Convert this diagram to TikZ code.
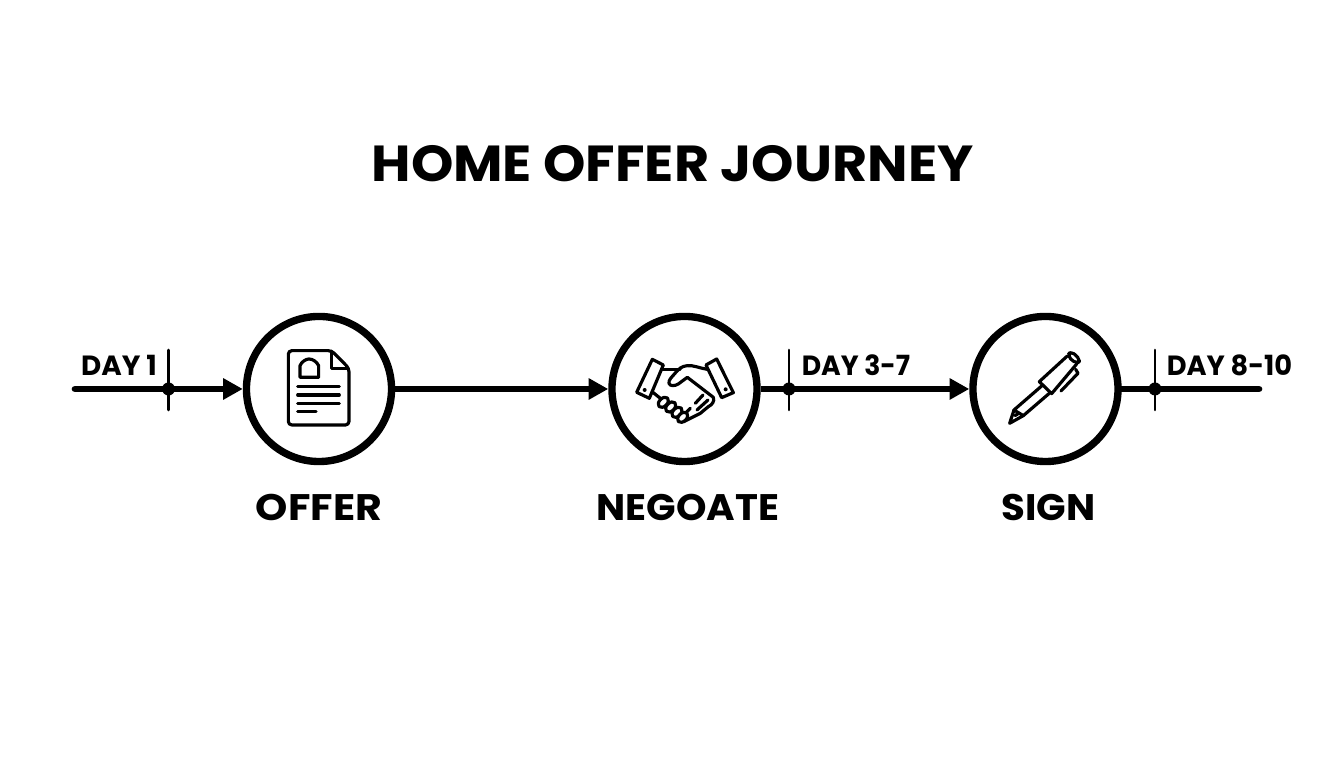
\documentclass[tikz,border=0pt]{standalone}
\usepackage{fontspec}
\setmainfont{Poppins}[BoldFont={Poppins Bold}]
\usetikzlibrary{arrows.meta, positioning}
\definecolor{mainBlack}{gray}{0.0}
\newcommand{\pxu}{*0.2845pt}
\tikzset{
    stepcircle/.style={circle, draw=mainBlack, line width=2.1pt, fill=white, minimum size=145\pxu, inner sep=0pt},
    stepline/.style={line width=1.9pt, mainBlack},
    stepname/.style={font=\bfseries\fontsize{10.5}{12}\selectfont, xscale=1.05, mainBlack, inner sep=0pt},
    daytext/.style={font=\bfseries\fontsize{7.9}{10}\selectfont, mainBlack, inner sep=0pt},
    icon/.style={line width=0.9pt, mainBlack, line join=round, line cap=round},
}
\begin{document}
\begin{tikzpicture}[x=0.01cm, y=-0.01cm, >={Triangle[length=5.6pt, width=5.8pt]}]
    \useasboundingbox (0,0) rectangle (1344,768);

    \node[font=\bfseries\fontsize{14.4}{16}\selectfont, xscale=1.065, mainBlack, inner sep=0pt] (title) at (672.5,163.5) {HOME OFFER JOURNEY};

    % steps
    \node[stepcircle] (offer) at (319,389) {};
    \node[stepcircle] (negotiate) at (684.5,389) {};
    \node[stepcircle] (sign) at (1045.5,389) {};
    \node[stepname, xscale=1.06] (offerName) at (319,508) {OFFER};
    \node[stepname] (negotiateName) at (688,508) {NEGOATE};
    \node[stepname] (signName) at (1048.5,508) {SIGN};

    % timeline
    \coordinate (start) at (75,389);
    \coordinate (end) at (1259,389);
    \draw[stepline, line cap=round, ->] (start) -- (offer.west);
    \draw[stepline, ->] (offer.east) -- (negotiate.west);
    \draw[stepline, ->] (negotiate.east) -- (sign.west);
    \draw[stepline, line cap=round] (sign.east) -- (end);

    % day marks
    \foreach \name/\tx/\lab/\lx/\sx in {dayOne/168.5/DAY 1/119/1, dayTwo/789/DAY 3-7/856/0.96, dayThree/1155/DAY 8-10/1229.5/0.98} {
        \coordinate (\name) at (\tx,389);
        \draw[line width=0.75pt, mainBlack, line cap=round] (\name) ++(0,-39) -- ++(0,60);
        \fill[mainBlack] (\name) circle (6.5);
        \node[daytext, xscale=\sx] (\name Text) at (\lx,365.5) {\lab};
    }

    % document
    \begin{scope}[shift={(230,300)}, scale=1/3]
        \draw[icon, rounded corners=1pt] (175,152) -- (305,152) -- (357,205) -- (357,375) -- (175,375) -- cycle;
        \draw[icon] (305,154) -- (305,205) -- (355,205);
        \draw[icon] (210,232) -- (210,197) .. controls (215,185) and (228,177) .. (237,177) .. controls (248,177) and (260,185) .. (266,197) -- (266,232) -- cycle;
        \foreach \ly/\lx in {260/328, 285/328, 310/328, 335/258}
            \draw[icon] (203,\ly) -- (\lx,\ly);
    \end{scope}

    % handshake
    \begin{scope}[shift={(600,300)}, scale=1/3]
        \draw[icon] (157,178) -- (190,195) -- (148,295) -- (110,277) -- cycle;
        \draw[icon] (350,177) -- (318,195) -- (365,293) -- (400,278) -- cycle;
        \fill[mainBlack] (134,270) circle (6);
        \fill[mainBlack] (377,268) circle (6);
        \draw[icon] (187,208) -- (240,208);
        \draw[icon] (322,208) .. controls (300,205) and (280,195) .. (262,197) .. controls (245,198) and (235,208) .. (225,220) .. controls (215,232) and (205,240) .. (207,250) .. controls (210,260) and (225,258) .. (235,252) -- (262,232) -- (340,292) .. controls (345,305) and (335,315) .. (325,320) -- (301,340) -- (271,355) -- (251,365);
        \draw[icon] (156,275) -- (181,295);
        \draw[icon] (309,285) -- (286,310);
        \draw[icon] (324,300) -- (291,330);
        \draw[icon] (271,325) -- (256,340);
        \foreach \fx/\fy in {190/307, 212/321, 231/337, 248/352}
            \draw[icon, fill=white, rotate around={45:(\fx,\fy)}] (\fx,\fy) ellipse (18 and 12);
    \end{scope}

    % pen
    \begin{scope}[shift={(960,300)}, scale=1/3]
        \draw[icon, rounded corners=1.2pt] (333,153) -- (362,180) -- (350,192) -- (322,168) -- cycle;
        \draw[icon] (322,168) -- (238,245) -- (275,281) -- (350,192);
        \draw[icon] (245,258) -- (162,330) -- (190,347) -- (268,280);
        \draw[icon] (162,330) -- (149,370) -- (190,347);
        \draw[icon] (165,347) -- (176,340);
        \draw[icon] (347,208) -- (354,220) -- (303,273);
    \end{scope}
\end{tikzpicture}
\end{document}
